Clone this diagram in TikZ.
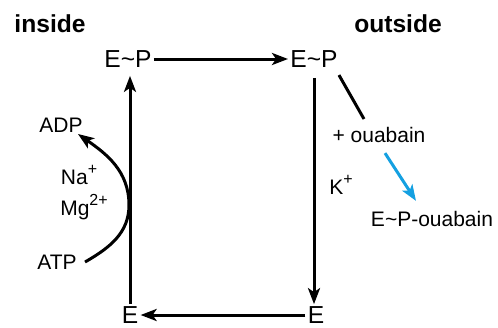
\documentclass[tikz,border=0pt]{standalone}
\usepackage{fontspec}
\setmainfont{Liberation Sans}
\usetikzlibrary{arrows.meta}
\definecolor{ouablue}{RGB}{20,160,225}
\newcommand{\sups}[1]{\raisebox{0.9ex}{\fontsize{8}{9}\selectfont #1}}
\begin{document}
\begin{tikzpicture}[
                x=0.5pt, y=-0.5pt,
                every node/.style={inner sep=1pt},
                side/.style={font=\fontsize{12.3}{14}\selectfont\bfseries},
                state/.style={font=\fontsize{12.3}{14}\selectfont},
                lbl/.style={font=\fontsize{10.5}{12}\selectfont},
                step arrow/.style={line width=1.5pt, -{Stealth[length=8pt, width=6pt, inset=2pt]}},
                blue arrow/.style={step arrow, draw=ouablue}
            ]
            \useasboundingbox (0,0) rectangle (498,327);

            % labels of both sides
            \node[side] (inside) at (50,24) {inside};
            \node[side] (outside) at (398,24) {outside};

            % the four states
            \node[state] (epl) at (128,59) {E\textasciitilde P};
            \node[state] (epr) at (314,59) {E\textasciitilde P};
            \node[state] (er) at (316,315) {E};
            \node[state] (el) at (130,315) {E};

            % small labels
            \node[lbl] (adp) at (61,125) {ADP};
            \node[lbl] (na) at (79,175) {Na\sups{+}};
            \node[lbl] (mg) at (84,207) {Mg\sups{2+}};
            \node[lbl] (atp) at (57,262) {ATP};
            \node[lbl] (kplus) at (341,185) {K\sups{+}};
            \node[lbl] (oua) at (379,135) {+ ouabain};
            \node[lbl] (epo) at (432,219) {E\textasciitilde P-ouabain};

            \coordinate (touch) at (129,205);
            \coordinate (adptip) at (78,134);
            \coordinate (ouatop) at (364,119);

            % cycle
            \draw[step arrow] (epl.east) -- (epr.west);
            \draw[step arrow, shorten <=4pt] (epr.south) -- (epr.south |- er.north);
            \draw[step arrow] (er.west) -- (el.east);
            \draw[step arrow, shorten >=3pt] (el.north) -- (el.north |- epl.south);

            % ATP -> ADP
            \draw[step arrow] ([xshift=3pt]atp.east) to[out=30, in=-90] (touch)
                to[out=90, in=-35] (adptip);

            % ouabain branch
            \draw[line width=1.5pt, shorten <=3pt] ([xshift=-2pt]epr.south east) -- (ouatop);
            \draw[blue arrow] ([xshift=3pt, yshift=-4pt]oua.south) -- ([xshift=-8pt, yshift=4pt]epo.north);

        \end{tikzpicture}
\end{document}
